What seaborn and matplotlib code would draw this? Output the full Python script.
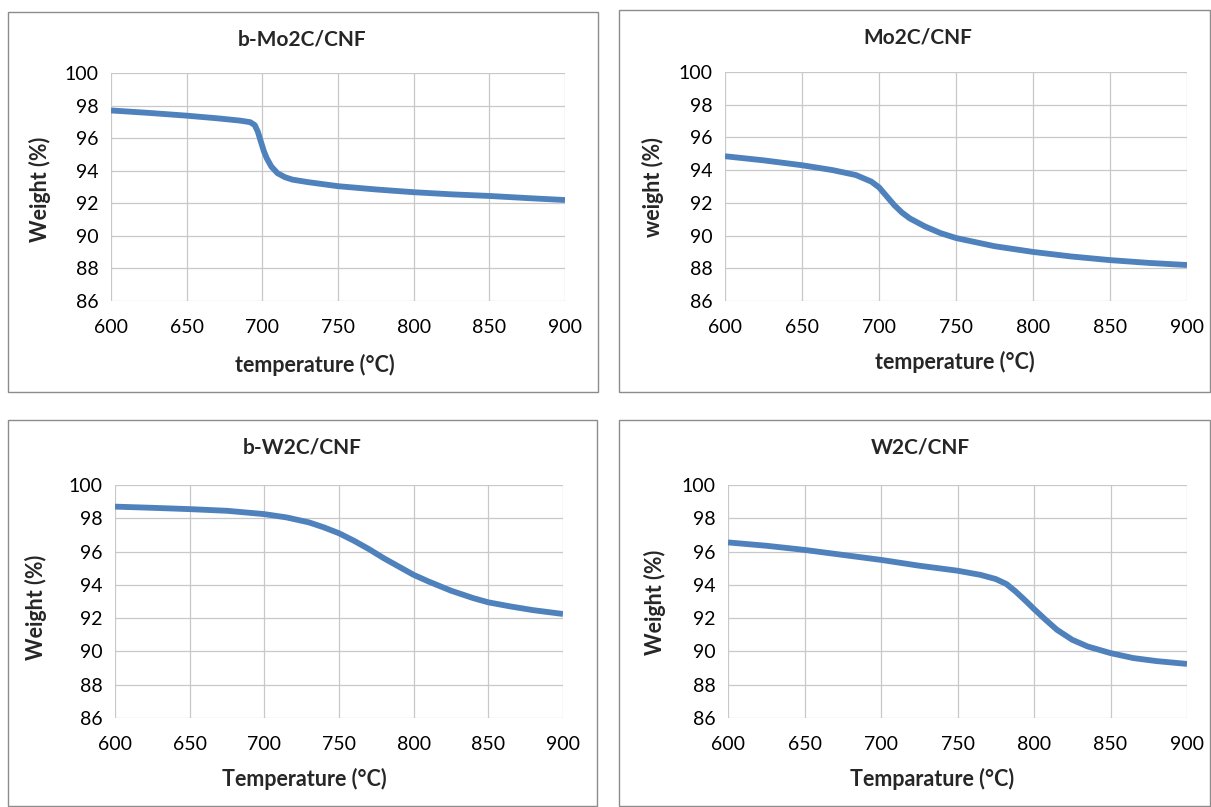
import pandas as pd
import matplotlib
matplotlib.use('Agg')
import matplotlib.pyplot as plt
import seaborn as sns
from matplotlib.patches import Rectangle

# ---- data ----
temp_bmo = [600, 625, 650, 670, 685, 692, 695, 697, 699, 701, 703, 706, 710, 715, 720, 730,
            750, 775, 800, 825, 850, 875, 900]
wt_bmo = [97.7, 97.55, 97.38, 97.22, 97.08, 96.98, 96.8, 96.4, 95.8, 95.2, 94.75, 94.25,
          93.85, 93.6, 93.45, 93.3, 93.05, 92.85, 92.68, 92.55, 92.45, 92.32, 92.2]

temp_mo = [600, 625, 650, 670, 685, 695, 700, 705, 710, 715, 720, 730, 740, 750, 775, 800,
           825, 850, 875, 900]
wt_mo = [94.85, 94.6, 94.3, 94.0, 93.7, 93.3, 92.95, 92.4, 91.85, 91.4, 91.05, 90.55, 90.15,
         89.85, 89.35, 89.0, 88.72, 88.5, 88.33, 88.2]

temp_bw = [600, 625, 650, 675, 700, 715, 730, 740, 750, 760, 770, 780, 790, 800, 810, 825,
           840, 850, 865, 880, 900]
wt_bw = [98.7, 98.63, 98.55, 98.45, 98.25, 98.05, 97.75, 97.45, 97.1, 96.65, 96.15, 95.6,
         95.1, 94.6, 94.2, 93.65, 93.2, 92.95, 92.7, 92.48, 92.25]

temp_w = [600, 625, 650, 675, 700, 725, 750, 765, 775, 782, 788, 795, 800, 807, 815, 825,
          835, 850, 865, 880, 900]
wt_w = [96.55, 96.35, 96.1, 95.8, 95.5, 95.15, 94.85, 94.6, 94.35, 94.05, 93.6, 93.0, 92.55,
        91.95, 91.3, 90.7, 90.3, 89.9, 89.6, 89.42, 89.25]

titles = ['b-Mo2C/CNF', 'Mo2C/CNF', 'b-W2C/CNF', 'W2C/CNF']
ylabels = ['Weight (%)', 'weight (%)', 'Weight (%)', 'Weight (%)']
xlabels = ['temperature (°C)', 'temperature (°C)', 'Temperature (°C)', 'Temparature (°C)']
x_ticks = [600, 650, 700, 750, 800, 850, 900]
y_ticks = [86, 88, 90, 92, 94, 96, 98, 100]

frames = []
for name, t, w in zip(titles, [temp_bmo, temp_mo, temp_bw, temp_w], [wt_bmo, wt_mo, wt_bw, wt_w]):
    frames.append(pd.DataFrame({'sample': name, 'temp': t, 'weight': w}))
df = pd.concat(frames, ignore_index=True)

sns.set_style('whitegrid')
plt.rcParams['font.family'] = ['Lato', 'DejaVu Sans']

W, H = 1211, 807
fig = plt.figure(figsize=(W / 100, H / 100), dpi=100)

# pixel layout: plot area (left, top, right, bottom), frame box, title/label positions
plot_px = [(111, 73, 565, 301), (725, 72, 1187, 301), (115, 485, 563, 718), (728, 485, 1187, 718)]
box_px = [(8, 12, 598, 392), (619, 10, 1210, 392), (8, 420, 597, 806), (619, 420, 1210, 806)]
title_px = [(302, 39), (918, 38), (302, 447), (920, 447)]
ylab_px = [(40, 189), (653, 187), (36, 607), (655, 602)]
xlab_px = [(315, 365), (955, 362), (304, 779), (932, 779)]

blue = '#4F81BD'
for i, name in enumerate(titles):
    l, t, r, b = plot_px[i]
    ax = fig.add_axes([l / W, 1 - b / H, (r - l) / W, (b - t) / H])
    sns.lineplot(data=df[df['sample'] == name], x='temp', y='weight', ax=ax,
                 color=blue, linewidth=4.2, solid_capstyle='butt')
    ax.set_xlim(600, 900)
    ax.set_ylim(86, 100)
    ax.set_xticks(x_ticks)
    ax.set_yticks(y_ticks)
    ax.grid(True, color='#C8C8C8', linewidth=0.9)
    for s in ax.spines.values():
        s.set_visible(False)
    ax.tick_params(axis='both', which='both', length=5, width=0.9, color='#8C8C8C',
                   labelsize=14, labelcolor='black', direction='out', pad=4)
    ax.tick_params(axis='x', pad=8)
    ax.set_xlabel('')
    ax.set_ylabel('')

    bx0, by0, bx1, by1 = box_px[i]
    fig.patches.append(Rectangle((bx0 / W, 1 - by1 / H), (bx1 - bx0) / W, (by1 - by0) / H,
                                 transform=fig.transFigure, fill=False,
                                 edgecolor='#8C8C8C', linewidth=1.0))
    tx, ty = title_px[i]
    fig.text(tx / W, 1 - ty / H, name, ha='center', va='center', fontsize=15, fontweight='bold')
    yx, yy = ylab_px[i]
    fig.text(yx / W, 1 - yy / H, ylabels[i], ha='center', va='center', rotation=90,
             fontsize=15.5, fontweight='bold')
    xx, xy = xlab_px[i]
    fig.text(xx / W, 1 - xy / H, xlabels[i], ha='center', va='center', fontsize=15.5,
             fontweight='bold')

fig.savefig('out.png', dpi=100, facecolor='white')
